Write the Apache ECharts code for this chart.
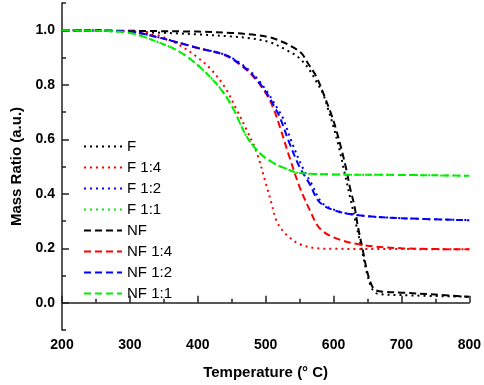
<!DOCTYPE html>
<html>
<head>
<meta charset="utf-8">
<script src="https://cdn.jsdelivr.net/npm/echarts@6/dist/echarts.min.js"></script>
<style>
  html, body { margin: 0; padding: 0; background: #fff; }
  #chart { width: 484px; height: 385px; }
</style>
</head>
<body>
<div id="chart"></div>
<script>
// [temperature, mass ratio]
const F = [[200, 1.0], [300, 0.995], [400, 0.985], [450, 0.977], [476, 0.971], [506, 0.956], [531, 0.927], [550, 0.897], [565, 0.853], [575, 0.81], [584, 0.77], [592, 0.71], [600, 0.645], [608, 0.57], [616, 0.48], [625, 0.38], [633, 0.29], [642, 0.19], [650, 0.1], [657, 0.05], [665, 0.033], [700, 0.028], [800, 0.022]];
const F14 = [[200, 1.0], [300, 0.996], [340, 0.982], [370, 0.95], [400, 0.9], [420, 0.855], [440, 0.79], [457, 0.71], [472, 0.634], [487, 0.55], [500, 0.44], [508, 0.37], [516, 0.3], [525, 0.265], [535, 0.24], [550, 0.215], [575, 0.2], [600, 0.198], [700, 0.197], [800, 0.196]];
const F12 = [[200, 1.0], [300, 0.995], [340, 0.975], [375, 0.952], [400, 0.935], [440, 0.91], [462, 0.88], [482, 0.838], [502, 0.775], [518, 0.71], [525, 0.68], [539, 0.586], [554, 0.498], [568, 0.435], [582, 0.37], [602, 0.34], [634, 0.322], [693, 0.311], [800, 0.303]];
const F11 = [[200, 1.0], [250, 0.998], [300, 0.99], [340, 0.958], [374, 0.92], [403, 0.865], [432, 0.79], [451, 0.718], [472, 0.61], [491, 0.55], [510, 0.515], [535, 0.487], [550, 0.476], [600, 0.471], [700, 0.469], [800, 0.466]];
const NF = [[200, 1.0], [400, 0.995], [450, 0.99], [480, 0.984], [506, 0.974], [525, 0.957], [540, 0.938], [553, 0.915], [562, 0.88], [575, 0.828], [587, 0.755], [597, 0.689], [604, 0.634], [612, 0.56], [619, 0.487], [624, 0.425], [631, 0.352], [636, 0.278], [643, 0.194], [650, 0.11], [657, 0.06], [663, 0.045], [675, 0.04], [700, 0.037], [750, 0.03], [800, 0.022]];
const NF14 = [[200, 1.0], [300, 0.995], [340, 0.975], [375, 0.952], [400, 0.935], [440, 0.908], [460, 0.878], [480, 0.835], [500, 0.77], [512, 0.71], [521, 0.645], [535, 0.535], [550, 0.425], [565, 0.34], [579, 0.275], [600, 0.24], [640, 0.213], [700, 0.2], [800, 0.196]];
const NF12 = [[200, 1.0], [300, 0.995], [340, 0.975], [375, 0.952], [400, 0.935], [440, 0.91], [460, 0.88], [480, 0.838], [500, 0.775], [515, 0.71], [521, 0.68], [535, 0.586], [550, 0.498], [565, 0.435], [579, 0.37], [600, 0.34], [634, 0.322], [693, 0.311], [800, 0.303]];
const NF11 = F11;

const yMajor = [0, 0.2, 0.4, 0.6, 0.8, 1.0];
const yMinor = [-0.1, 0.1, 0.3, 0.5, 0.7, 0.9, 1.1];

const font = 'Arial, "Liberation Sans", sans-serif';
const chart = echarts.init(document.getElementById('chart'));

function line(name, data, color, dotted) {
  return {
    name: name,
    type: 'line',
    data: data,
    smooth: 0.35,
    symbol: 'none',
    yAxisIndex: 0,
    lineStyle: { color: color, width: 2, type: dotted ? [2, 4] : [7, 4] },
    itemStyle: { color: color }
  };
}

chart.setOption({
  animation: false,
  textStyle: { fontFamily: font },
  grid: { left: 62, right: 14, top: 3, bottom: 55 },
  legend: {
    orient: 'vertical',
    left: 78,
    top: 134,
    itemWidth: 38,
    itemHeight: 14,
    itemGap: 6,
    itemStyle: { opacity: 0 },
    textStyle: { fontSize: 15, color: '#000', fontFamily: font }
  },
  xAxis: {
    type: 'value',
    min: 200,
    max: 800,
    interval: 100,
    name: 'Temperature (° C)',
    nameLocation: 'middle',
    nameGap: 35,
    nameTextStyle: { fontSize: 15, fontWeight: 'bold', color: '#000' },
    axisLine: { lineStyle: { color: '#222', width: 1.5 } },
    axisTick: { inside: true, length: 7, lineStyle: { color: '#222', width: 1.5 } },
    minorTick: { show: true, splitNumber: 2, length: 4, lineStyle: { color: '#222', width: 1.5 } },
    axisLabel: { fontSize: 14, fontWeight: 'bold', color: '#000', margin: 8 },
    splitLine: { show: false }
  },
  yAxis: [
    {
      type: 'value',
      min: -0.1,
      max: 1.1,
      name: 'Mass Ratio (a.u.)',
      nameLocation: 'middle',
      nameGap: 38,
      nameTextStyle: { fontSize: 15, fontWeight: 'bold', color: '#000' },
      axisLine: { show: true, lineStyle: { color: '#222', width: 1.5 } },
      axisTick: { show: true, inside: true, length: 7, customValues: yMajor, lineStyle: { color: '#222', width: 1.5 } },
      axisLabel: {
        fontSize: 14, fontWeight: 'bold', color: '#000', margin: 7,
        customValues: yMajor,
        formatter: function (v) { return v.toFixed(1); }
      },
      splitLine: { show: false }
    },
    {
      type: 'value',
      position: 'left',
      min: -0.1,
      max: 1.1,
      axisLine: { show: false },
      axisTick: { show: true, inside: true, length: 4, customValues: yMinor, lineStyle: { color: '#222', width: 1.5 } },
      axisLabel: { show: false },
      splitLine: { show: false }
    }
  ],
  series: [
    line('F', F, '#000000', true),
    line('F 1:4', F14, '#ff0000', true),
    line('F 1:2', F12, '#0000ff', true),
    line('F 1:1', F11, '#00ee00', true),
    line('NF', NF, '#000000', false),
    line('NF 1:4', NF14, '#ff0000', false),
    line('NF 1:2', NF12, '#0000ff', false),
    line('NF 1:1', NF11, '#00ee00', false)
  ]
});
</script>
</body>
</html>
